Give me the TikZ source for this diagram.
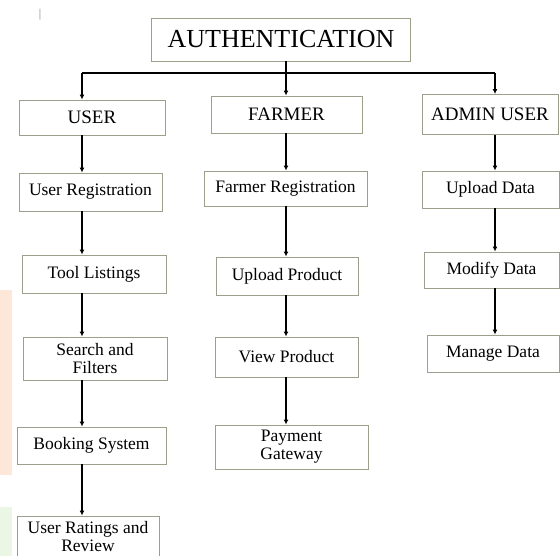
\documentclass[tikz,border=0pt]{standalone}
\usepackage{fontspec}
\setmainfont{Liberation Serif}
\usetikzlibrary{arrows.meta}

\definecolor{boxline}{RGB}{158,158,140}
\definecolor{tintA}{RGB}{253,231,216}
\definecolor{tintB}{RGB}{236,246,228}

\begin{document}
\begin{tikzpicture}[x=1pt,y=-1pt,
  box/.style={draw=boxline,line width=0.9pt,inner sep=0pt,align=center,font=\fontsize{17.5}{18}\selectfont},
  head/.style={box,font=\fontsize{19}{21}\selectfont},
  flow/.style={line width=1.8pt,-{Latex[length=5pt,width=5pt]}}]
\useasboundingbox (0,0) rectangle (560,556);

% faint tints down the left edge
\fill[tintA] (0,290) rectangle (12,475);
\fill[tintB] (0,507) rectangle (12,556);
\node[text=gray,font=\fontsize{12}{12}\selectfont] (tick) at (40,15) {|};

\node[box,font=\fontsize{26}{28}\selectfont,minimum width=259pt,minimum height=43pt] (auth) at (281,39.5) {AUTHENTICATION};

\node[head,minimum width=146pt,minimum height=35pt] (user) at (92,117.5) {USER};
\node[head,minimum width=151pt,minimum height=37pt] (farmer) at (286.5,114.5) {FARMER};
\node[head,minimum width=136pt,minimum height=40pt] (admin) at (490,114.5) {ADMIN USER};

% user column
\node[box,minimum width=143pt,minimum height=38pt] (userreg) at (90.5,192) {User Registration};
\node[box,minimum width=144pt,minimum height=38pt] (tools) at (94,274) {Tool Listings};
\node[box,minimum width=144pt,minimum height=43pt] (search) at (95,358.5) {Search and\\Filters};
\node[box,minimum width=149pt,minimum height=37pt] (booking) at (91.5,445.5) {Booking System};
\node[box,minimum width=142pt,minimum height=42pt] (ratings) at (88,537) {User Ratings and\\Review};

% farmer column
\node[box,minimum width=163pt,minimum height=35pt] (farmreg) at (285.5,188.5) {Farmer Registration};
\node[box,minimum width=142pt,minimum height=38pt] (upprod) at (287,276) {Upload Product};
\node[box,minimum width=143pt,minimum height=40pt] (viewprod) at (286.5,357) {View Product};
\node[box,minimum width=153pt,minimum height=44pt] (payment) at (291.5,447) {Payment\\Gateway};

% admin column
\node[box,minimum width=137pt,minimum height=37pt] (updata) at (490.5,189.5) {Upload Data};
\node[box,minimum width=135pt,minimum height=36pt] (moddata) at (491.5,270) {Modify Data};
\node[box,minimum width=132pt,minimum height=37pt] (mandata) at (493,353.5) {Manage Data};

\coordinate (ucol) at (82,0);
\coordinate (fcol) at (286,0);
\coordinate (acol) at (495,0);
\coordinate (split) at (286,73);

\draw[line width=1.8pt] (auth.south -| fcol) -- (split);
\draw[line width=1.8pt] (split -| ucol) -- (split -| acol);
\draw[flow] (split -| ucol) -- (user.north -| ucol);
\draw[flow] (split) -- (farmer.north -| fcol);
\draw[flow] (split -| acol) -- (admin.north -| acol);

\draw[flow] (user.south -| ucol) -- (userreg.north -| ucol);
\draw[flow] (userreg.south -| ucol) -- (tools.north -| ucol);
\draw[flow] (tools.south -| ucol) -- (search.north -| ucol);
\draw[flow] (search.south -| ucol) -- (booking.north -| ucol);
\draw[flow] (booking.south -| ucol) -- (ratings.north -| ucol);

\draw[flow] (farmer.south -| fcol) -- (farmreg.north -| fcol);
\draw[flow] (farmreg.south -| fcol) -- (upprod.north -| fcol);
\draw[flow] (upprod.south -| fcol) -- (viewprod.north -| fcol);
\draw[flow] (viewprod.south -| fcol) -- (payment.north -| fcol);

\draw[flow] (admin.south -| acol) -- (updata.north -| acol);
\draw[flow] (updata.south -| acol) -- (moddata.north -| acol);
\draw[flow] (moddata.south -| acol) -- (mandata.north -| acol);
\end{tikzpicture}
\end{document}
